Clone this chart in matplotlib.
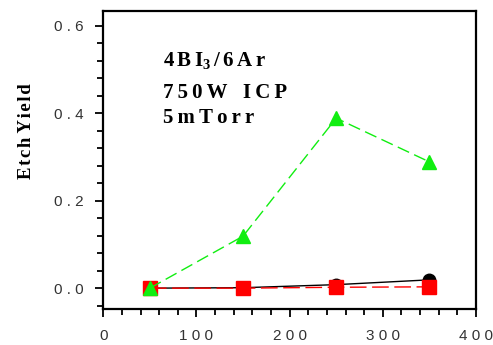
import numpy as np
import matplotlib
matplotlib.use('Agg')
from matplotlib import pyplot as plt
from matplotlib.ticker import MultipleLocator, FuncFormatter

plt.rcParams['mathtext.fontset'] = 'custom'
plt.rcParams['mathtext.rm'] = 'Liberation Serif:bold'
plt.rcParams['mathtext.bf'] = 'Liberation Serif:bold'

# data
power = [50, 150, 250, 350]
yield_green = [0.0, 0.119, 0.389, 0.289]
yield_black = [0.0, 0.001, 0.008, 0.019]
yield_red = [0.0, 0.0, 0.002, 0.003]

TS = '\u2009'  # thin space, to mimic the wide letter spacing
HS = '\u200a'
notes = [r'$\mathbf{4\,B\,I_3\,/\,6\,A\,r}$',
         TS.join('750W') + '   ' + TS.join('ICP'),
         TS.join('5mTorr')]
note_y = [0.522, 0.447, 0.389]

fig = plt.figure(figsize=(4.93, 3.45), dpi=100)
ax = fig.add_axes([0.2095, 0.104, 0.756, 0.865])

ax.plot(power, yield_black, color='black', lw=1.0, marker='o', ms=9, zorder=2)
ax.plot(power, yield_red, color='red', lw=1.0, ls=(0, (12, 4)), marker='s', ms=10,
        zorder=3)
ax.plot(power, yield_green, color='#11ee11', lw=1.0, ls=(0, (9, 4)), marker='^',
        ms=10, zorder=4)

ax.set_xlim(0, 400)
ax.set_ylim(-0.048, 0.635)
ax.xaxis.set_major_locator(MultipleLocator(100))
ax.xaxis.set_minor_locator(MultipleLocator(20))
ax.yaxis.set_major_locator(MultipleLocator(0.2))
ax.yaxis.set_minor_locator(MultipleLocator(0.04))

spaced = lambda fmt: FuncFormatter(lambda v, p: ' '.join(fmt.format(v)))
ax.xaxis.set_major_formatter(spaced('{:.0f}'))
ax.yaxis.set_major_formatter(spaced('{:.1f}'))

for s in ax.spines.values():
    s.set_linewidth(1.6)
ax.tick_params(which='major', direction='out', length=6, width=1.3,
               labelsize=11, pad=8, colors='black', labelcolor='#333333')
ax.tick_params(which='minor', direction='out', length=4, width=1.3)
for lab in ax.get_xticklabels() + ax.get_yticklabels():
    lab.set_family('Liberation Sans')

ax.set_ylabel(HS.join('Etch') + ' ' + HS.join('Yield'),
              family=['Liberation Serif', 'DejaVu Serif'], fontweight='bold',
              fontsize=13.5)
ax.yaxis.set_label_coords(-0.183, 0.597)

for t, y in zip(notes, note_y):
    ax.text(64, y, t, family=['Liberation Serif', 'DejaVu Serif'],
            fontweight='bold', fontsize=15, va='center', ha='left')

fig.savefig('out.png', dpi=100)
